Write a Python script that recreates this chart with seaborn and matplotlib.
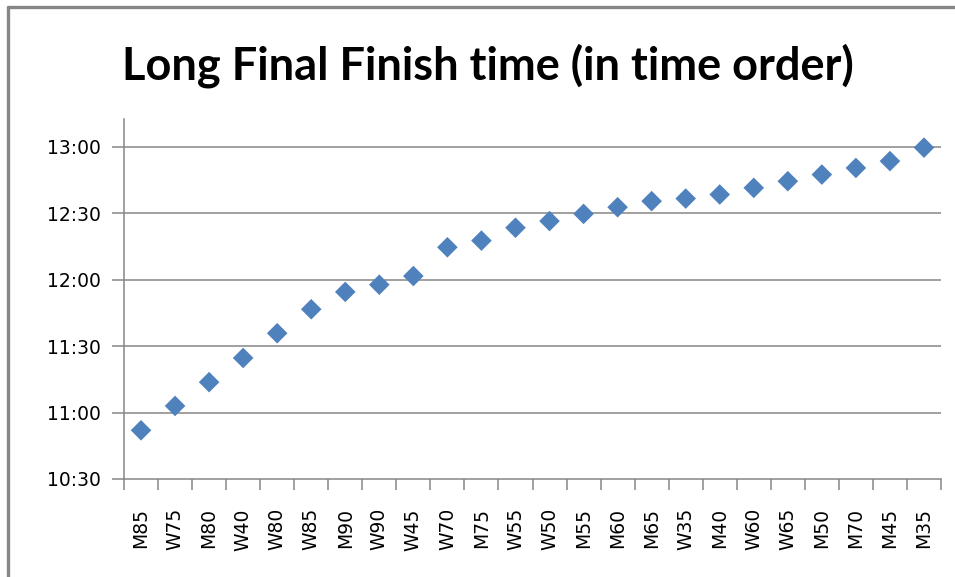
import matplotlib
matplotlib.use("Agg")
import matplotlib.pyplot as plt
import matplotlib.ticker as mticker
from matplotlib.lines import Line2D
import numpy as np
import pandas as pd
import seaborn as sns

# -------------data-------------
categories = ["M85", "W75", "M80", "W40", "W80", "W85", "M90", "W90", "W45", "W70",
              "M75", "W55", "W50", "M55", "M60", "M65", "W35", "M40", "W60", "W65",
              "M50", "M70", "M45", "M35"]
finish_times = ["10:52:00", "11:03:00", "11:13:45", "11:24:40", "11:35:50", "11:46:40",
                "11:54:30", "11:57:45", "12:01:40", "12:14:40", "12:17:40", "12:23:30",
                "12:26:30", "12:29:45", "12:32:45", "12:35:30", "12:36:40", "12:38:30",
                "12:41:30", "12:44:30", "12:47:30", "12:50:30", "12:53:35", "12:59:40"]
y_ticks = ["10:30", "11:00", "11:30", "12:00", "12:30", "13:00"]


def to_minutes(t):
    # "HH:MM[:SS]" -> minutes after midnight
    parts = [int(p) for p in t.split(":")]
    while len(parts) < 3:
        parts.append(0)
    return parts[0] * 60 + parts[1] + parts[2] / 60.0


def fmt_hhmm(v, pos=None):
    v = int(round(v))
    return "%d:%02d" % (v // 60, v % 60)


df = pd.DataFrame({"pos": np.arange(len(categories)),
                   "group": categories,
                   "minutes": [to_minutes(t) for t in finish_times]})

# -------------plotting-------------
sns.set_style("white")
plt.rcParams['font.family'] = ['DejaVu Sans']

fig = plt.figure(figsize=(9.55, 5.77), dpi=100)
ax = fig.add_axes([124 / 955, 1 - 479 / 577, (941 - 124) / 955, (479 - 119) / 577])

grid_col = "#868686"
ytick_vals = [to_minutes(t) for t in y_ticks]
for yv in ytick_vals[1:]:
    ax.axhline(yv, color=grid_col, linewidth=1.1, zorder=0)

sns.scatterplot(data=df, x="pos", y="minutes", marker="D", s=110, color="#4F81BD",
                edgecolor="none", linewidth=0, ax=ax, zorder=3, legend=False)

ax.set_xlim(-0.5, len(categories) - 0.5)
ax.set_ylim(ytick_vals[0], ytick_vals[-1] + 12.6)
ax.set_yticks(ytick_vals)
ax.yaxis.set_major_formatter(mticker.FuncFormatter(fmt_hhmm))
ax.set_xticks(df["pos"])
ax.set_xticklabels(df["group"], rotation=90)
ax.xaxis.set_minor_locator(mticker.FixedLocator(np.arange(-0.5, len(categories), 1.0)))

ax.tick_params(axis="x", which="major", length=0, pad=21, labelsize=13.5, labelcolor="black")
ax.tick_params(axis="x", which="minor", length=8, width=1.1, color=grid_col, direction="out", bottom=True)
ax.tick_params(axis="y", which="major", length=9, width=1.1, color=grid_col, direction="out",
               pad=8, labelsize=13.5, labelcolor="black", left=True)

for side in ["top", "right"]:
    ax.spines[side].set_visible(False)
for side in ["left", "bottom"]:
    ax.spines[side].set_color(grid_col)
    ax.spines[side].set_linewidth(1.1)

ax.set_xlabel("")
ax.set_ylabel("")

fig.text(0.5 * (122 + 853) / 955, 1 - 79 / 577, "Long Final Finish time (in time order)",
         ha="center", va="baseline", fontsize=32.5, fontweight="bold", color="black",
         family=["Liberation Sans Narrow", "Lato", "DejaVu Sans"])

# chart frame (only top and left edges show in the crop)
fig.add_artist(Line2D([8 / 955, 1.0], [1 - 7 / 577, 1 - 7 / 577], transform=fig.transFigure,
                      color="#868686", linewidth=2.4))
fig.add_artist(Line2D([8 / 955, 8 / 955], [0.0, 1 - 7 / 577], transform=fig.transFigure,
                      color="#868686", linewidth=2.4))

fig.savefig("out.png", dpi=100)
